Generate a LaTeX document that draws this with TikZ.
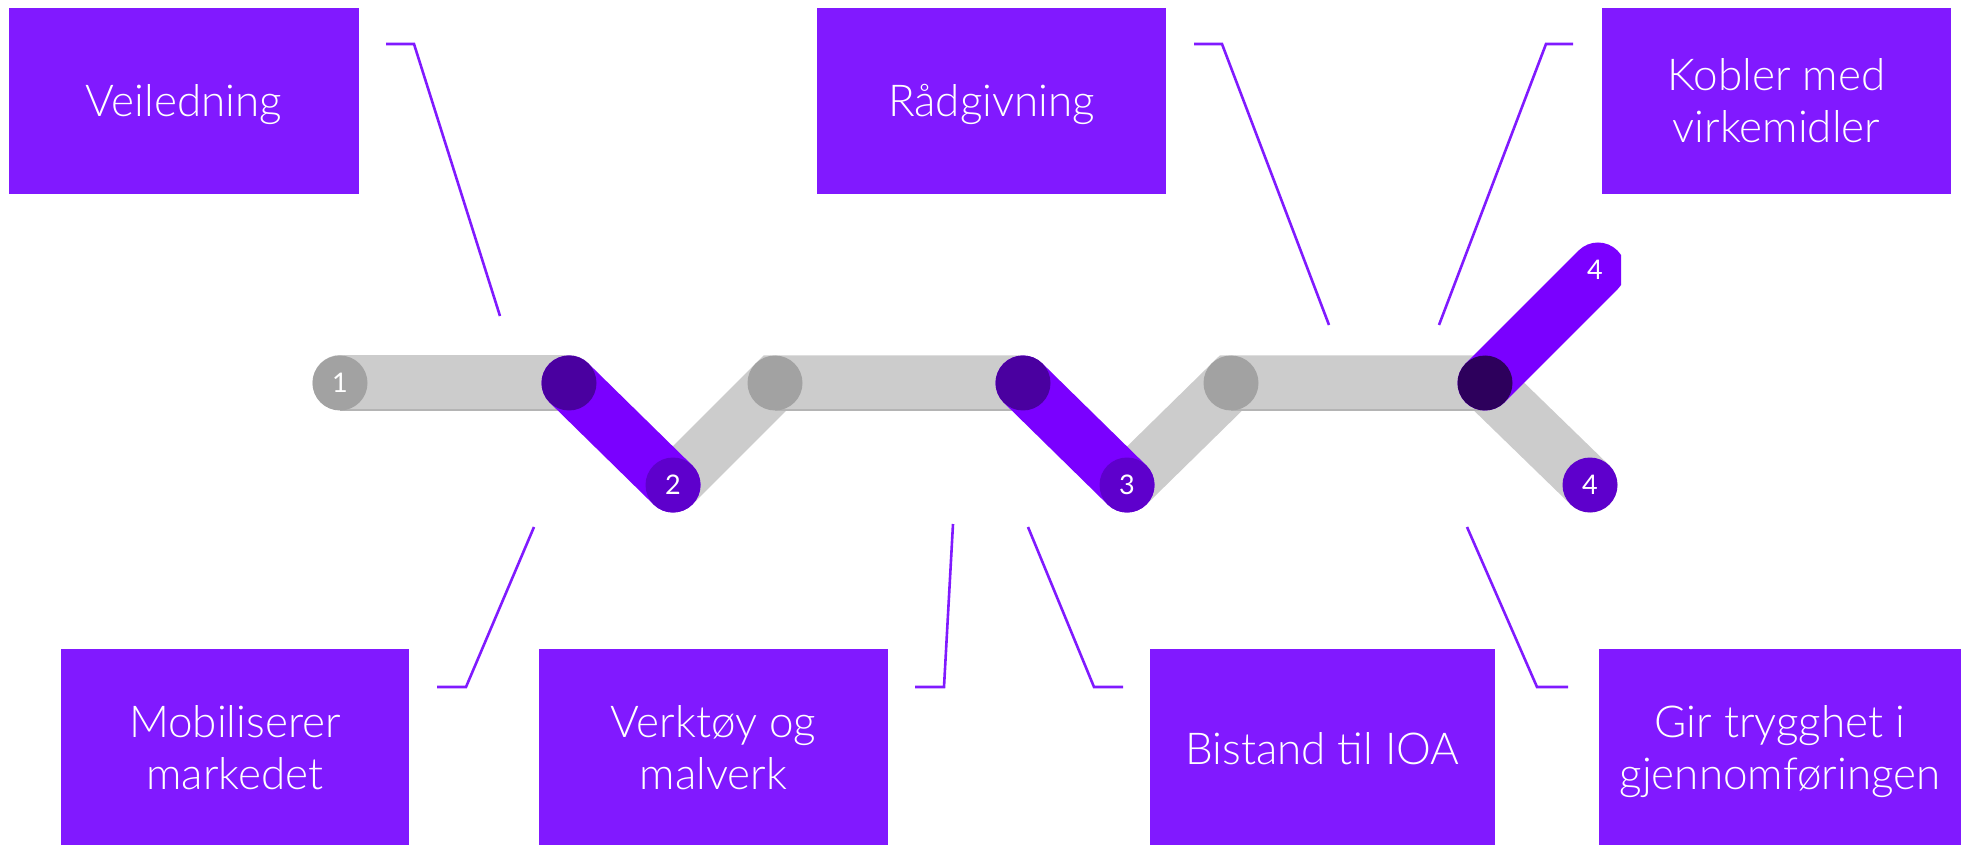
\documentclass[tikz,border=0pt]{standalone}
\usepackage{fontspec}
\IfFontExistsTF{Lato Light}{\setmainfont{Lato Light}}{\setmainfont{Lato}}
\newfontfamily\numfont{Lato}
\definecolor{boxpurple}{RGB}{129,25,255}
\definecolor{linepurple}{RGB}{128,26,255}
\definecolor{bandgrey}{RGB}{204,204,204}
\definecolor{bandline}{RGB}{180,180,180}
\definecolor{dotgrey}{RGB}{162,162,162}
\definecolor{barpurple}{RGB}{122,0,255}
\definecolor{startpurple}{RGB}{74,0,160}
\definecolor{endpurple}{RGB}{94,0,204}
\definecolor{deeppurple}{RGB}{45,0,92}
\begin{document}
\begin{tikzpicture}[x=0.5pt,y=-0.5pt,
  labelbox/.style={rectangle, fill=boxpurple, draw=none, inner sep=0pt},
  boxtext/.style={text=white, align=center, anchor=base, inner sep=0pt,
    font=\fontsize{22}{26}\selectfont},
  leader/.style={draw=linepurple, line width=1.3pt},
  band/.style={draw=bandgrey, line width=27.5pt, line cap=round},
  bandedge/.style={draw=bandline, line width=0.7pt},
  pbar/.style={draw=barpurple, line width=27.5pt, line cap=round},
  dot/.style={circle, minimum size=27.5pt, inner sep=0pt, text=white,
    font=\numfont\fontsize{13.5}{13.5}\selectfont}]
\useasboundingbox (0,0) rectangle (1961,845);

% boxes
\node[labelbox, minimum width=175pt, minimum height=93pt] (veil) at (184,101) {};
\node[labelbox, minimum width=174.5pt, minimum height=93pt] (rad) at (991.5,101) {};
\node[labelbox, minimum width=174.5pt, minimum height=93pt] (kob) at (1776.5,101) {};
\node[labelbox, minimum width=174pt, minimum height=98pt] (mob) at (235,747) {};
\node[labelbox, minimum width=174.5pt, minimum height=98pt] (ver) at (713.5,747) {};
\node[labelbox, minimum width=172.5pt, minimum height=98pt] (bis) at (1322.5,747) {};
\node[labelbox, minimum width=181pt, minimum height=98pt] (gir) at (1780,747) {};

\node[boxtext, yshift=-8pt] (veilT) at (veil.center) {Veiledning};
\node[boxtext, yshift=-8pt] (radT) at (rad.center) {Rådgivning};
\node[boxtext, yshift=-21pt] (kobT) at (kob.center) {Kobler med\\virkemidler};
\node[boxtext, yshift=-21pt] (mobT) at (mob.center) {Mobiliserer\\markedet};
\node[boxtext, yshift=-21pt] (verT) at (ver.center) {Verktøy og\\malverk};
\node[boxtext, yshift=-8.5pt] (bisT) at (bis.center) {Bistand til IOA};
\node[boxtext, yshift=-21pt] (girT) at (gir.center) {Gir trygghet i\\gjennomføringen};

% leader lines
\coordinate (v1) at (386,44); \coordinate (v2) at (414,44); \coordinate (v3) at (500,316);
\coordinate (r1) at (1194,44); \coordinate (r2) at (1222,44); \coordinate (r3) at (1329,325);
\coordinate (k1) at (1573,44); \coordinate (k2) at (1546,44); \coordinate (k3) at (1439,325);
\coordinate (m1) at (437,687); \coordinate (m2) at (466,687); \coordinate (m3) at (534,527);
\coordinate (t1) at (915,687); \coordinate (t2) at (944,687); \coordinate (t3) at (953,524);
\coordinate (b1) at (1123,687); \coordinate (b2) at (1094,687); \coordinate (b3) at (1028,527);
\coordinate (g1) at (1568,687); \coordinate (g2) at (1537,687); \coordinate (g3) at (1467,527);
\draw[leader] (v1) -- (v2) -- (v3);
\draw[leader] (r1) -- (r2) -- (r3);
\draw[leader] (k1) -- (k2) -- (k3);
\draw[leader] (m1) -- (m2) -- (m3);
\draw[leader] (t1) -- (t2) -- (t3);
\draw[leader] (b1) -- (b2) -- (b3);
\draw[leader] (g1) -- (g2) -- (g3);

% track
\begin{scope}
\clip (0,0) rectangle (1621,845);
\coordinate (p1) at (340,383);
\coordinate (pa) at (569,383);
\coordinate (p2) at (673,485);
\coordinate (pc) at (775,383);
\coordinate (pd) at (1023,383);
\coordinate (p3) at (1127,485);
\coordinate (pf) at (1231,383);
\coordinate (pg) at (1485,383);
\coordinate (ph) at (1598,270);
\coordinate (p4) at (1590,485);
\draw[band] (p1) -- (pa);
\draw[band] (p2) -- (pc) -- (pd);
\draw[band] (p3) -- (pf) -- (pg) -- (p4);
\draw[bandedge] ([yshift=-13.6pt]p1) -- ([yshift=-13.6pt]pa);
\draw[bandedge] ([yshift=-13.6pt]pc) -- ([yshift=-13.6pt]pd);
\draw[bandedge] ([yshift=-13.6pt]pf) -- ([yshift=-13.6pt]pg);
\draw[pbar] (pa) -- (p2);
\draw[pbar] (pd) -- (p3);
\draw[pbar] (pg) -- (ph);
\node[dot, fill=dotgrey] (d1) at (p1) {1};
\node[dot, fill=startpurple] (da) at (pa) {};
\node[dot, fill=endpurple] (d2) at (p2) {2};
\node[dot, fill=dotgrey] (dc) at (pc) {};
\node[dot, fill=startpurple] (dd) at (pd) {};
\node[dot, fill=endpurple] (d3) at (p3) {3};
\node[dot, fill=dotgrey] (df) at (pf) {};
\node[dot, fill=deeppurple] (dg) at (pg) {};
\node[dot, xshift=-1.5pt] (dh) at (ph) {4};
\node[dot, fill=endpurple] (d4) at (p4) {4};
\end{scope}
\end{tikzpicture}
\end{document}
